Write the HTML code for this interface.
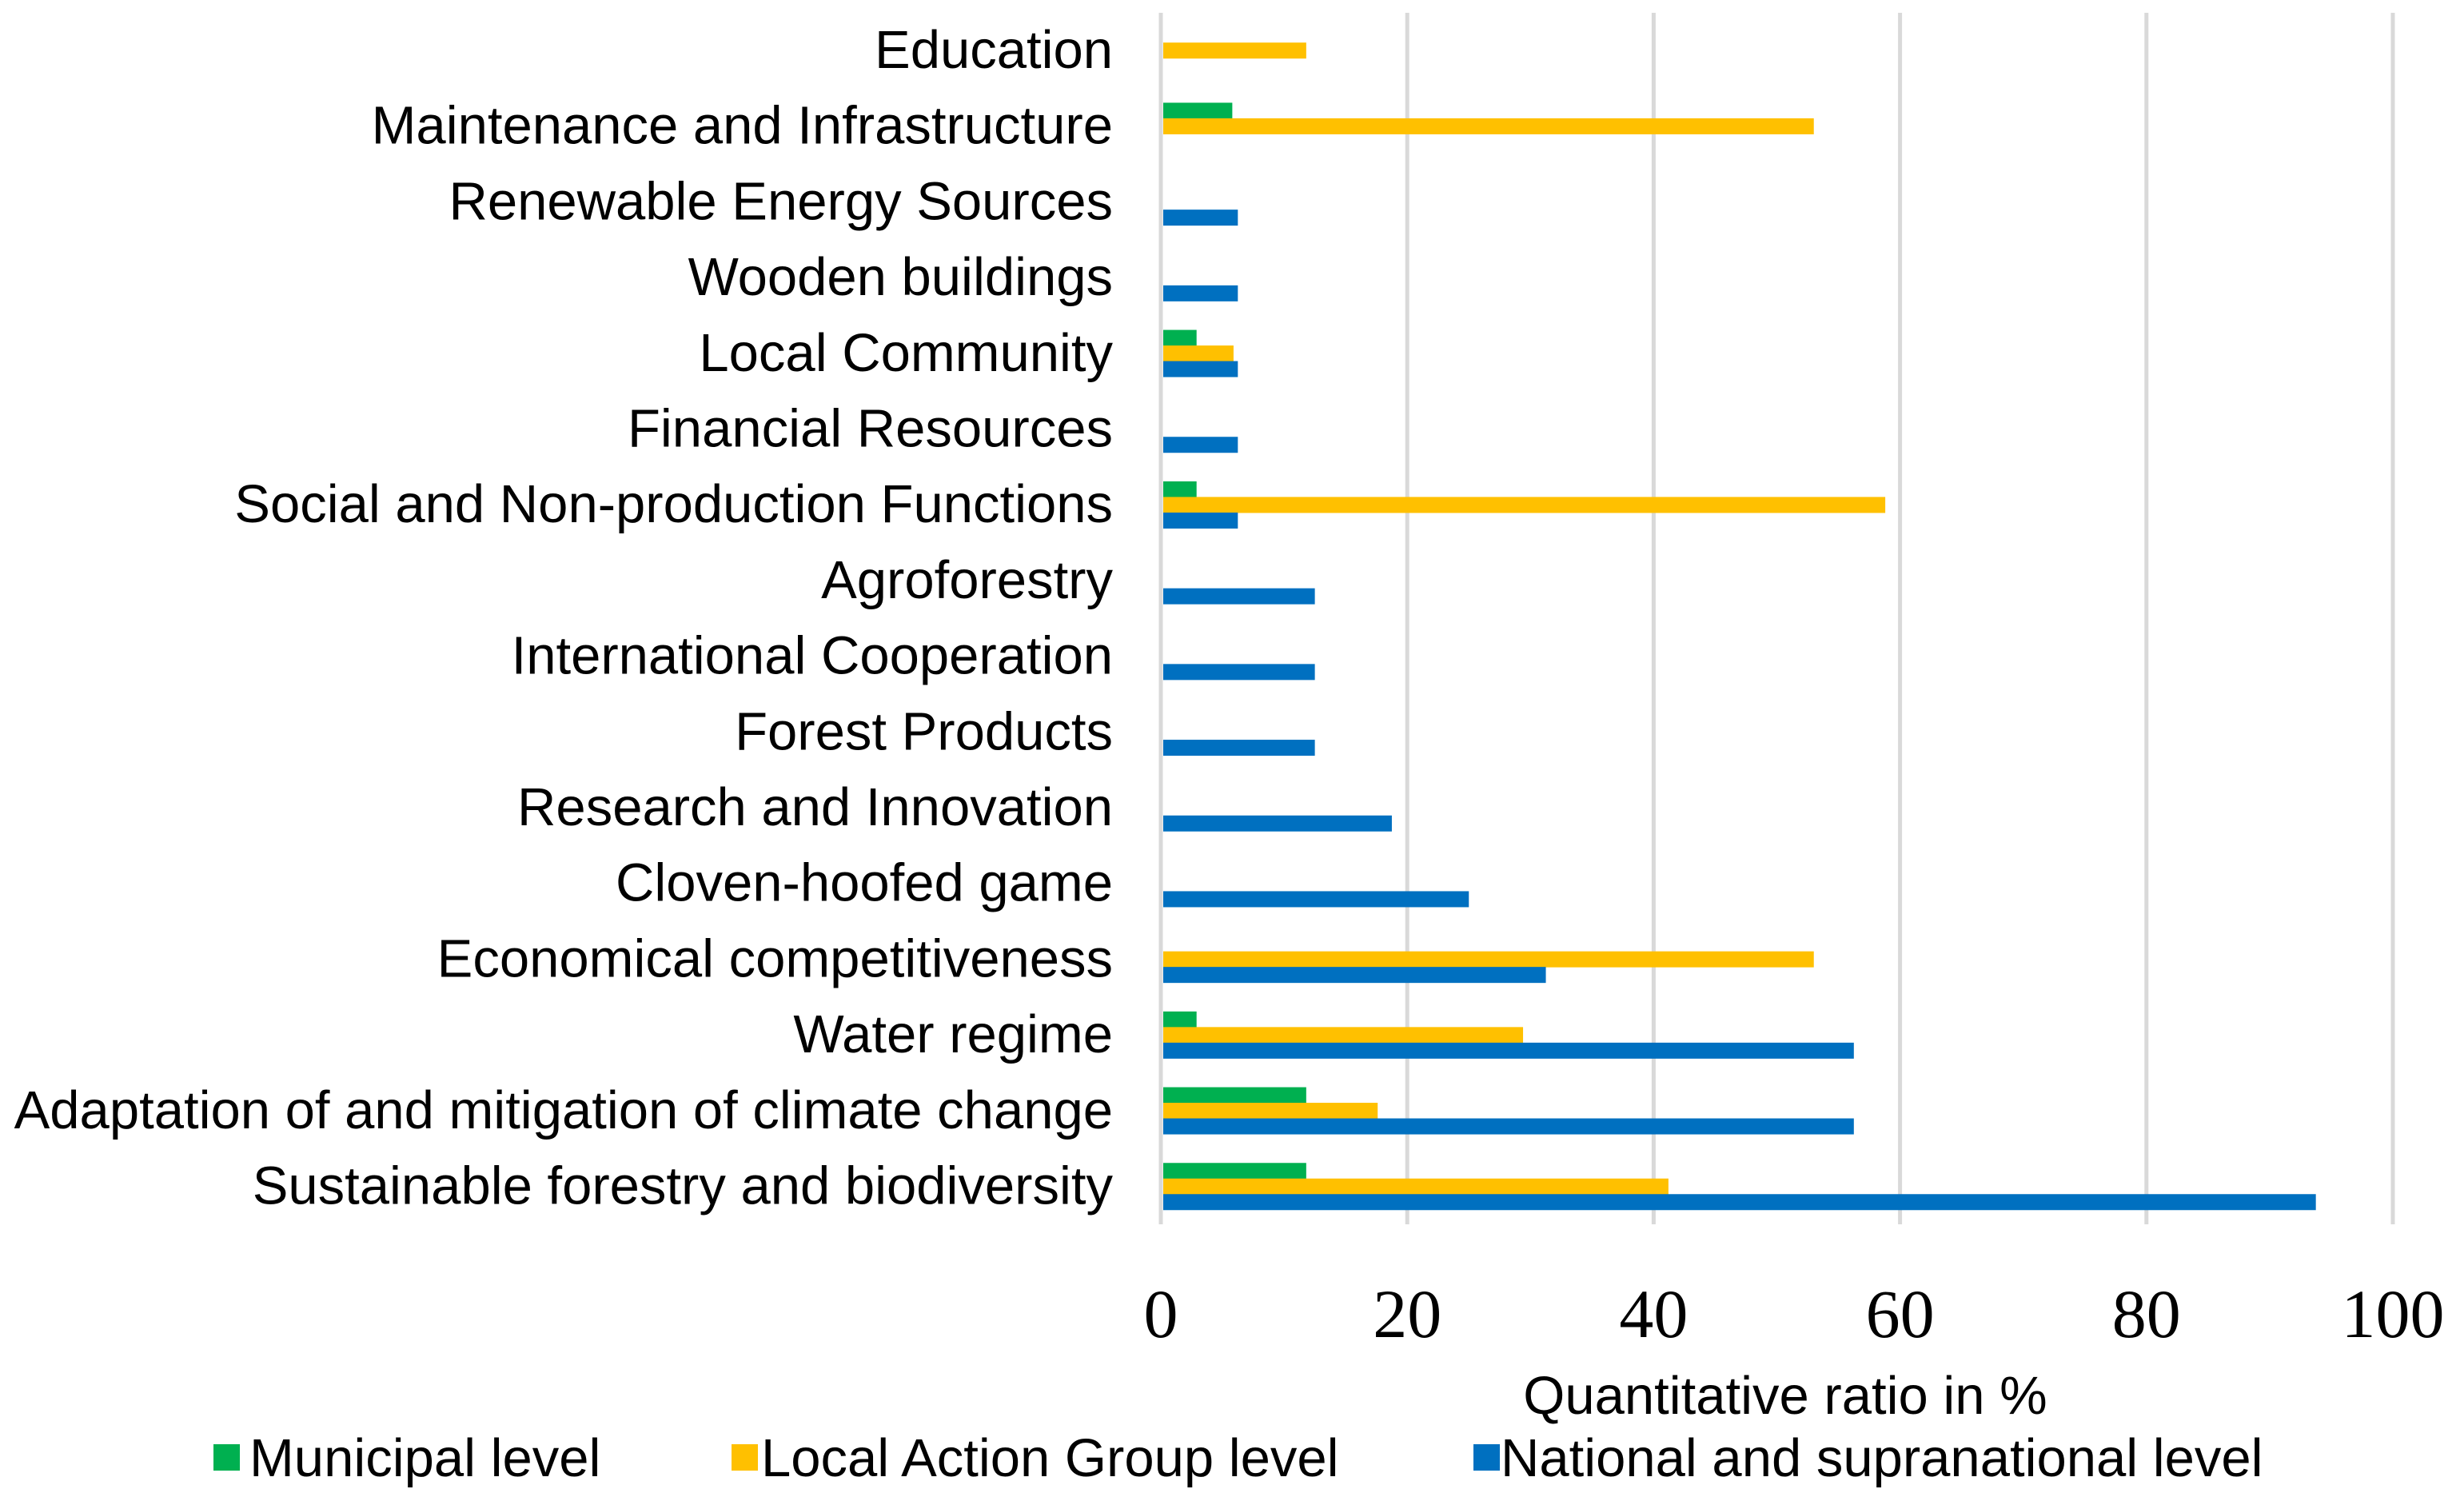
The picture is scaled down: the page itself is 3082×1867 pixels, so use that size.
<!DOCTYPE html>
<html><head><meta charset="utf-8"><style>
html,body{margin:0;padding:0;background:#fff;}
svg{display:block;}
.cat{font-family:"Liberation Sans",sans-serif;font-size:67px;fill:#000;}
.tick{font-family:"Liberation Serif",serif;font-size:86px;fill:#000;}
</style></head><body>
<svg id="chart" width="3082" height="1867" viewBox="0 0 3082 1867" xmlns="http://www.w3.org/2000/svg">
<g id="grid"></g>
<g id="bars"></g>
<g id="cats"></g>
<g id="ticks"></g>
<text class="cat" x="2233" y="1768" text-anchor="middle">Quantitative ratio in %</text>
<g>
  <rect x="267" y="1806" width="33" height="33" fill="#00B050"/>
  <text class="cat" x="312" y="1846">Municipal level</text>
  <rect x="915" y="1806" width="33" height="33" fill="#FFC000"/>
  <text class="cat" x="952" y="1846">Local Action Group level</text>
  <rect x="1843" y="1806" width="33" height="33" fill="#0070C0"/>
  <text class="cat" x="1877" y="1846">National and supranational level</text>
</g>
</svg>
<script>
const categories = ["Education","Maintenance and Infrastructure","Renewable Energy Sources","Wooden buildings","Local Community","Financial Resources","Social and Non-production Functions","Agroforestry","International Cooperation","Forest Products","Research and Innovation","Cloven-hoofed game","Economical competitiveness","Water regime","Adaptation of and mitigation of climate change","Sustainable forestry and biodiversity"];
const municipal = [0,5.8,0,0,2.9,0,2.9,0,0,0,0,0,0,2.9,11.8,11.8];
const lag = [11.8,53,0,0,5.9,0,58.8,0,0,0,0,0,53,29.4,17.6,41.2];
const national = [0,0,6.25,6.25,6.25,6.25,6.25,12.5,12.5,12.5,18.75,25,31.25,56.25,56.25,93.75];
const ticks = [0,20,40,60,80,100];

const NS="http://www.w3.org/2000/svg";
const X0=1452, X1=2993, Y0=16, Y1=1531;
const xs=v=>X0+(v/100)*(X1-X0);
const firstC=63, step=94.7, bh=19.5;
const yc=i=>firstC+i*step;
function mk(tag,attrs,parent){const e=document.createElementNS(NS,tag);for(const k in attrs)e.setAttribute(k,attrs[k]);parent.appendChild(e);return e;}
const grid=document.getElementById('grid'),bars=document.getElementById('bars'),cats=document.getElementById('cats'),tk=document.getElementById('ticks');
ticks.forEach(t=>{
  const l=mk('line',{x1:xs(t),x2:xs(t),y1:Y0,y2:Y1,stroke:'#d9d9d9','stroke-width':5},grid);
  
  
  const tx=mk('text',{x:xs(t),y:1672,'text-anchor':'middle',class:'tick'},tk);
  tx.textContent=t;
  
  
});
const series=[[municipal,'#00B050','municipal',-1],[lag,'#FFC000','lag',0],[national,'#0070C0','national',1]];
categories.forEach((c,i)=>{
  const tx=mk('text',{x:1392,y:yc(i)+22,'text-anchor':'end',class:'cat'},cats);
  tx.textContent=c;
  
  
  series.forEach(([arr,col,nm,off])=>{
    const v=arr[i]; if(!v) return;
    const r=mk('rect',{x:xs(0)+3,y:yc(i)+off*bh-bh/2,width:xs(v)-xs(0)-3,height:bh+0.5,fill:col},bars);
    
    
  });
});
</script>
</body></html>
